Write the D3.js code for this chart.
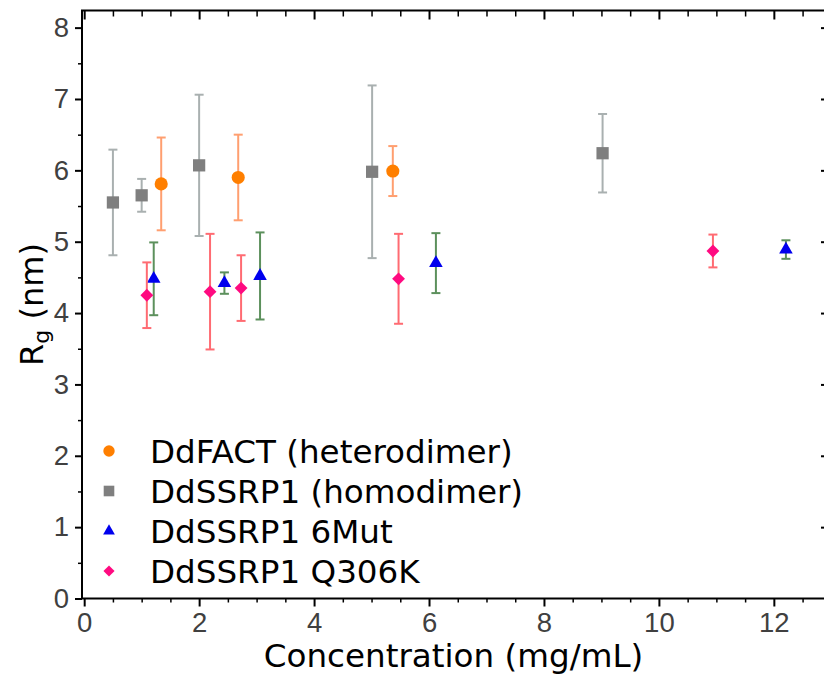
<!DOCTYPE html>
<html>
<head>
<meta charset="utf-8">
<script src="https://cdn.jsdelivr.net/npm/d3@7"></script>
<style>
  body { margin: 0; background: #fff; }
  svg { display: block; font-family: "DejaVu Sans", sans-serif; }
  .axis .tick text { fill: #404040; font-size: 27.5px; }
  .axis .tick line { stroke: #000; }
  .axis path.domain { display: none; }
</style>
</head>
<body>
<div id="grafRg"></div>
<script>
// data
const seriesNames = ["DdFACT (heterodimer)", "DdSSRP1 (homodimer)", "DdSSRP1 6Mut", "DdSSRP1 Q306K"];

const factConc = [1.34, 2.68, 5.37];
const factRg = [5.81, 5.90, 5.99];
const factErr = [0.65, 0.60, 0.35];

const ssrpConc = [0.50, 1.00, 2.00, 5.01, 9.02];
const ssrpRg = [5.55, 5.65, 6.07, 5.98, 6.24];
const ssrpErr = [0.74, 0.23, 0.99, 1.21, 0.55];

const mutConc = [1.21, 2.44, 3.06, 6.12, 12.21];
const mutRg = [4.48, 4.42, 4.52, 4.70, 4.89];
const mutErr = [0.51, 0.15, 0.61, 0.42, 0.13];

const q306Conc = [1.09, 2.19, 2.73, 5.47, 10.94];
const q306Rg = [4.25, 4.30, 4.35, 4.48, 4.87];
const q306Err = [0.46, 0.81, 0.46, 0.63, 0.23];

const xMajorTicks = [0, 2, 4, 6, 8, 10, 12];
const yMajorTicks = [0, 1, 2, 3, 4, 5, 6, 7, 8];

// styles (kept apart from the data)
const markerColor = ["#ff7f00", "#7f7f7f", "#0000ee", "#ff0a80"];
const errColor = ["#ff9f70", "#a9b0b0", "#5c905c", "#ff6b72"];
const markerShape = [d3.symbolCircle, d3.symbolSquare, d3.symbolTriangle, d3.symbolDiamond2];
const markerSize = [135, 150, 80, 105];

const series = [
  { conc: factConc, rg: factRg, err: factErr },
  { conc: ssrpConc, rg: ssrpRg, err: ssrpErr },
  { conc: mutConc, rg: mutRg, err: mutErr },
  { conc: q306Conc, rg: q306Rg, err: q306Err }
].map((s, i) => ({
  name: seriesNames[i],
  idx: i,
  points: s.conc.map((c, j) => ({ c: c, v: s.rg[j], e: s.err[j] }))
}));

// plot box
const totalWidth = 824, totalHeight = 674;
const box = { left: 82, top: 10.5, right: 825, bottom: 598.5 };

const svg = d3.select("#grafRg")
  .append("svg")
  .attr("width", totalWidth)
  .attr("height", totalHeight);

const x = d3.scaleLinear().domain([-0.038, 12.89]).range([box.left, box.right]);
const y = d3.scaleLinear().domain([0, 8.24]).range([box.bottom, box.top]);

const xMinorTicks = d3.range(0.5, 12.9, 0.5).filter((v) => v % 2 !== 0);

// bottom axis: majors + minors
svg.append("g").attr("class", "axis")
  .attr("transform", `translate(0,${box.bottom})`)
  .call(d3.axisBottom(x).tickValues(xMajorTicks).tickSize(8).tickPadding(6).tickFormat(d3.format("d")))
  .call((g) => g.selectAll(".tick line").attr("stroke-width", 2));
svg.append("g").attr("class", "axis")
  .attr("transform", `translate(0,${box.bottom})`)
  .call(d3.axisBottom(x).tickValues(xMinorTicks).tickSize(4).tickFormat(""))
  .call((g) => g.selectAll(".tick line").attr("stroke-width", 1.5));

// top axis, ticks inward
svg.append("g").attr("class", "axis")
  .attr("transform", `translate(0,${box.top})`)
  .call(d3.axisTop(x).tickValues(xMajorTicks).tickSize(-9).tickFormat(""))
  .call((g) => g.selectAll(".tick line").attr("stroke-width", 2));
svg.append("g").attr("class", "axis")
  .attr("transform", `translate(0,${box.top})`)
  .call(d3.axisTop(x).tickValues(xMinorTicks).tickSize(-6).tickFormat(""))
  .call((g) => g.selectAll(".tick line").attr("stroke-width", 1.5));

// left axis
svg.append("g").attr("class", "axis")
  .attr("transform", `translate(${box.left},0)`)
  .call(d3.axisLeft(y).tickValues(yMajorTicks).tickSize(7).tickPadding(6).tickFormat(d3.format("d")))
  .call((g) => g.selectAll(".tick line").attr("stroke-width", 2));
svg.append("g").attr("class", "axis")
  .attr("transform", `translate(${box.left},0)`)
  .call(d3.axisLeft(y).tickValues(d3.range(0.5, 8, 1)).tickSize(4).tickFormat(""))
  .call((g) => g.selectAll(".tick line").attr("stroke-width", 1.5));

// right axis, majors only, inward
svg.append("g").attr("class", "axis")
  .attr("transform", `translate(${box.right},0)`)
  .call(d3.axisRight(y).tickValues(yMajorTicks.slice(1)).tickSize(-4).tickFormat(""))
  .call((g) => g.selectAll(".tick line").attr("stroke-width", 2));

// frame
svg.append("rect")
  .attr("x", box.left).attr("y", box.top)
  .attr("width", box.right - box.left).attr("height", box.bottom - box.top)
  .attr("fill", "none").attr("stroke", "#000").attr("stroke-width", 2);

// error bars and markers
const gSeries = svg.selectAll(".serie").data(series).enter().append("g").attr("class", "serie");

gSeries.each(function (s) {
  const g = d3.select(this);
  const eb = g.selectAll(".eb").data(s.points).enter().append("g")
    .attr("class", "eb")
    .attr("stroke", errColor[s.idx])
    .attr("stroke-width", 2);
  eb.append("line")
    .attr("x1", (d) => x(d.c)).attr("x2", (d) => x(d.c))
    .attr("y1", (d) => y(d.v - d.e)).attr("y2", (d) => y(d.v + d.e));
  eb.append("line")
    .attr("x1", (d) => x(d.c) - 4.5).attr("x2", (d) => x(d.c) + 4.5)
    .attr("y1", (d) => y(d.v + d.e)).attr("y2", (d) => y(d.v + d.e));
  eb.append("line")
    .attr("x1", (d) => x(d.c) - 4.5).attr("x2", (d) => x(d.c) + 4.5)
    .attr("y1", (d) => y(d.v - d.e)).attr("y2", (d) => y(d.v - d.e));

  g.selectAll(".mk").data(s.points).enter().append("path")
    .attr("class", "mk")
    .attr("d", d3.symbol().type(markerShape[s.idx]).size(markerSize[s.idx]))
    .attr("transform", (d) => `translate(${x(d.c)},${y(d.v)})`)
    .attr("fill", markerColor[s.idx]);
});

// legend
const legend = svg.append("g").attr("transform", "translate(109,451)");
const legendRow = legend.selectAll("g").data(series).enter().append("g")
  .attr("transform", (d, i) => `translate(0,${i * 40})`);
legendRow.append("path")
  .attr("d", (d) => d3.symbol().type(markerShape[d.idx]).size(markerSize[d.idx] * 0.75)())
  .attr("fill", (d) => markerColor[d.idx]);
legendRow.append("text")
  .attr("x", 41)
  .attr("y", 11.5)
  .attr("font-size", 32.6)
  .attr("fill", "#000")
  .text((d) => d.name);

// axis titles
svg.append("text")
  .attr("x", (box.left + box.right) / 2)
  .attr("y", 667)
  .attr("text-anchor", "middle")
  .attr("font-size", 32.6)
  .attr("fill", "#000")
  .text("Concentration (mg/mL)");

const yTitle = svg.append("text")
  .attr("transform", `translate(43,${(box.top + box.bottom) / 2}) rotate(-90)`)
  .attr("text-anchor", "middle")
  .attr("font-size", 32)
  .attr("fill", "#000");
yTitle.append("tspan").text("R");
yTitle.append("tspan").attr("font-size", 22).attr("dy", 6).text("g");
yTitle.append("tspan").attr("dy", -6).text(" (nm)");
</script>
</body>
</html>
